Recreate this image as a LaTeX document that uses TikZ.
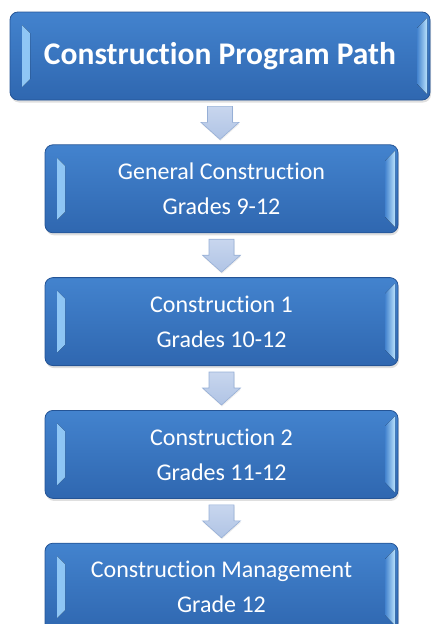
\documentclass[tikz,border=0pt]{standalone}
\usepackage{fontspec}
\setmainfont{Carlito}[Ligatures=CommonOff]
\usetikzlibrary{positioning,calc,shadows}
\definecolor{boxtop}{RGB}{67,131,206}
\definecolor{boxbot}{RGB}{47,103,176}
\definecolor{boxedge}{RGB}{36,84,150}
\definecolor{bevelleft}{RGB}{145,200,246}
\definecolor{bevelright}{RGB}{185,225,252}
\definecolor{arrowtop}{RGB}{200,214,238}
\definecolor{arrowbot}{RGB}{176,196,229}
\definecolor{arrowedge}{RGB}{150,175,214}
% block arrow from the bottom of one box to the top of the next
\newcommand\stagearrow[2]{%
  \draw[stagearrow] let \p1=($(#1.south)+(0,6)$), \p2=($(#2.north)+(0,-5)$) in
    (\x1-12.5pt,\y1) -- (\x1+12.5pt,\y1) -- (\x1+12.5pt,\y2+17pt) -- (\x1+19pt,\y2+17pt)
    -- (\x1,\y2) -- (\x1-19pt,\y2+17pt) -- (\x1-12.5pt,\y2+17pt) -- cycle;}
\begin{document}
\begin{tikzpicture}[x=1pt,y=-1pt,
    stage/.style ={rectangle, rounded corners=8pt, draw=boxedge, line width=0.8pt,
      top color=boxtop, bottom color=boxbot, text=white, align=center,
      minimum width=353pt, minimum height=88pt, inner sep=0pt,
      drop shadow={opacity=0.25, shadow xshift=1pt, shadow yshift=-2.5pt},
      font=\fontsize{24}{35}\selectfont,
      path picture={
        \fill[sharp corners, left color=bevelleft, right color=boxtop!90!white]
          ([shift={(12pt,-13pt)}]path picture bounding box.north west)
          -- ([shift={(20pt,-21pt)}]path picture bounding box.north west)
          -- ([shift={(20pt,21pt)}]path picture bounding box.south west)
          -- ([shift={(12pt,13pt)}]path picture bounding box.south west) -- cycle;
        \fill[sharp corners, left color=boxtop, right color=bevelright]
          ([shift={(-3pt,-6pt)}]path picture bounding box.north east)
          -- ([shift={(-13pt,-16pt)}]path picture bounding box.north east)
          -- ([shift={(-13pt,16pt)}]path picture bounding box.south east)
          -- ([shift={(-3pt,6pt)}]path picture bounding box.south east) -- cycle;
      }},
    stagearrow/.style ={top color=arrowtop, bottom color=arrowbot, draw=arrowedge,
      line width=0.6pt, line join=miter,
      drop shadow={opacity=0.15, shadow xshift=0.5pt, shadow yshift=-1.5pt}}]
   \useasboundingbox (0,0) rectangle (432,624);
   \node[stage, minimum width=420pt, font=\fontsize{31.5}{38}\bfseries] (title) at (220,56) {Construction Program Path};
   \node[stage, below=44pt of title, xshift=1.5pt] (general) {General Construction\\Grades 9-12};
   \node[stage, below=44pt of general] (cons1) {Construction 1\\Grades 10-12};
   \node[stage, below=44pt of cons1] (cons2) {Construction 2\\Grades 11-12};
   \node[stage, below=44pt of cons2] (mgmt) {Construction Management\\Grade 12};
   \stagearrow{title}{general}
   \stagearrow{general}{cons1}
   \stagearrow{cons1}{cons2}
   \stagearrow{cons2}{mgmt}
 \end{tikzpicture}
\end{document}
